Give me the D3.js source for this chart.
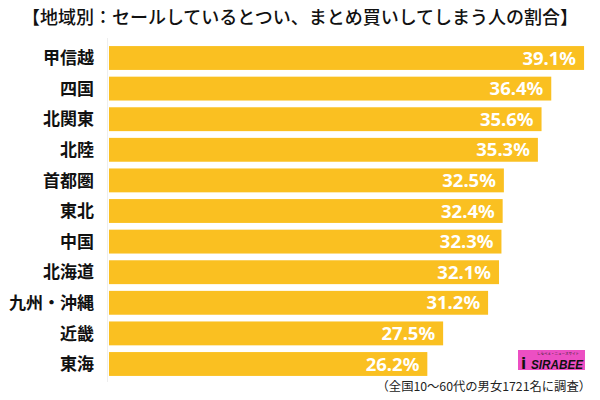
<!DOCTYPE html>
<html>
<head>
<meta charset="utf-8">
<script src="https://cdn.jsdelivr.net/npm/d3@7"></script>
<style>
  html, body { margin: 0; padding: 0; background: #fff; }
  svg { display: block; }
</style>
</head>
<body>
<svg id="chart" width="600" height="400"></svg>
<script>
const titleText = "【地域別：セールしているとつい、まとめ買いしてしまう人の割合】";
const footnoteText = "（全国10～60代の男女1721名に調査）";
const categories = ["甲信越", "四国", "北関東", "北陸", "首都圏", "東北", "中国", "北海道", "九州・沖縄", "近畿", "東海"];
const values = [39.1, 36.4, 35.6, 35.3, 32.5, 32.4, 32.3, 32.1, 31.2, 27.5, 26.2];

const svg = d3.select("#chart");
const cjk = "'Noto Sans CJK JP', 'Noto Sans', sans-serif";
const barColor = "#FAC021";

const x = d3.scaleLinear().domain([0, 40]).range([109, 595]);
const y = d3.scaleBand().domain(categories).range([42.7, 379.3]).paddingInner(0.22).paddingOuter(0.11);

const data = categories.map((c, i) => ({ c, v: values[i] }));

// title
svg.append("text")
  .attr("x", 300).attr("y", 24)
  .attr("text-anchor", "middle")
  .attr("font-family", cjk)
  .attr("font-size", 18)
  .attr("font-weight", 500)
  .attr("fill", "#111")
  .text(titleText);

// faint axis line
svg.append("line")
  .attr("x1", x(0) - 1.5).attr("x2", x(0) - 1.5)
  .attr("y1", 38).attr("y2", 382)
  .attr("stroke", "#eeeeee").attr("stroke-width", 1);

// bars
svg.selectAll("rect.bar").data(data).enter().append("rect")
  .attr("class", "bar")
  .attr("x", x(0))
  .attr("y", d => y(d.c))
  .attr("width", d => x(d.v) - x(0))
  .attr("height", y.bandwidth())
  .attr("fill", barColor);

// value labels
svg.selectAll("text.val").data(data).enter().append("text")
  .attr("class", "val")
  .attr("x", d => x(d.v) - 8)
  .attr("y", d => y(d.c) + y.bandwidth() / 2)
  .attr("dy", "0.36em")
  .attr("text-anchor", "end")
  .attr("font-family", "'Noto Sans', Roboto, sans-serif")
  .attr("font-size", 18.5)
  .attr("font-weight", 700)
  .attr("fill", "#fff")
  .text(d => d.v.toFixed(1) + "%");

// category labels via axis
const axis = d3.axisLeft(y).tickSize(0).tickPadding(0);
const g = svg.append("g").attr("transform", "translate(94,0)").call(axis);
g.select(".domain").remove();
g.selectAll("text")
  .attr("font-family", cjk)
  .attr("font-size", 17)
  .attr("font-weight", 700)
  .attr("fill", "#111")
  .attr("dy", "0.36em");

// logo
const logo = svg.append("g").attr("transform", "translate(518,350)");
logo.append("rect").attr("width", 67).attr("height", 20).attr("fill", "#EC4FC3");
logo.append("text").attr("x", 40).attr("y", 4.5)
  .attr("text-anchor", "middle")
  .attr("font-family", cjk).attr("font-size", 3.5).attr("fill", "#222")
  .text("しらべぇ・ニュースサイト");
logo.append("text").attr("x", 3).attr("y", 18.5)
  .attr("font-family", "'DejaVu Sans', sans-serif").attr("font-size", 15).attr("font-weight", 700)
  .attr("fill", "#111").text("i");
logo.append("text").attr("x", 13).attr("y", 18.5)
  .attr("font-family", "'Liberation Sans Narrow', 'Liberation Sans', Arial, sans-serif").attr("font-size", 13)
  .attr("font-weight", 700).attr("font-style", "italic")
  .attr("textLength", 52).attr("lengthAdjust", "spacingAndGlyphs")
  .attr("fill", "#111").text("SIRABEE");

// footnote
svg.append("text")
  .attr("x", 591).attr("y", 391)
  .attr("text-anchor", "end")
  .attr("font-family", cjk)
  .attr("font-size", 12.3)
  .attr("fill", "#222")
  .text(footnoteText);
</script>
</body>
</html>
